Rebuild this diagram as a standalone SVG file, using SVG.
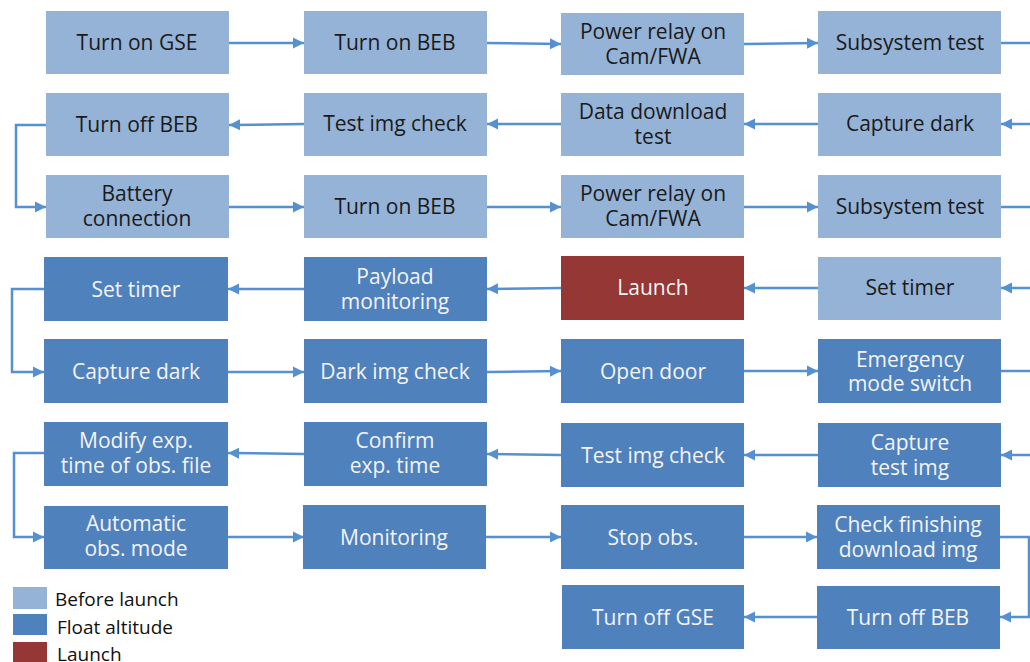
<svg xmlns="http://www.w3.org/2000/svg" width="1030" height="662" viewBox="0 0 1030 662">
<style>
.b{stroke:none}
.pre{fill:#95b3d7}
.flt{fill:#4f81bd}
.lch{fill:#953735}
text{font-family:"Open Sans","Noto Sans","DejaVu Sans",sans-serif;font-size:21px;text-anchor:middle}
.dk{fill:#1a1a1a}
.lt{fill:#f4f4f4}
.c{fill:none;stroke:#5590d0;stroke-width:2.5}
.lg{font-size:19px;text-anchor:start;fill:#111}
</style>
<defs>
<marker id="ah" markerUnits="userSpaceOnUse" markerWidth="12" markerHeight="12" refX="11" refY="6" orient="auto">
<path d="M0,0.5 L11,6 L0,11.5 z" fill="#5590d0"/>
</marker>
</defs>
<rect width="1030" height="662" fill="#ffffff"/>

<g id="connectors">
<line class="c" x1="228" y1="43" x2="304" y2="43" marker-end="url(#ah)"/>
<line class="c" x1="487" y1="43" x2="561" y2="44" marker-end="url(#ah)"/>
<line class="c" x1="744" y1="44" x2="818" y2="43" marker-end="url(#ah)"/>
<line class="c" x1="1001" y1="43" x2="1030" y2="43"/>

<line class="c" x1="1030" y1="124" x2="1001" y2="124" marker-end="url(#ah)"/>
<line class="c" x1="818" y1="124" x2="744" y2="124" marker-end="url(#ah)"/>
<line class="c" x1="561" y1="124" x2="487" y2="124" marker-end="url(#ah)"/>
<line class="c" x1="304" y1="124" x2="229" y2="125" marker-end="url(#ah)"/>
<polyline class="c" points="46,125 16,125 16,207 46,207" marker-end="url(#ah)"/>

<line class="c" x1="229" y1="207" x2="304" y2="207" marker-end="url(#ah)"/>
<line class="c" x1="487" y1="207" x2="561" y2="207" marker-end="url(#ah)"/>
<line class="c" x1="744" y1="207" x2="818" y2="207" marker-end="url(#ah)"/>
<line class="c" x1="1001" y1="207" x2="1030" y2="207"/>

<line class="c" x1="1030" y1="288" x2="1001" y2="288" marker-end="url(#ah)"/>
<line class="c" x1="818" y1="288" x2="744" y2="288" marker-end="url(#ah)"/>
<line class="c" x1="561" y1="288" x2="487" y2="289" marker-end="url(#ah)"/>
<line class="c" x1="304" y1="289" x2="228" y2="289" marker-end="url(#ah)"/>
<polyline class="c" points="44,289 12,289 12,372 44,372" marker-end="url(#ah)"/>

<line class="c" x1="228" y1="372" x2="304" y2="372" marker-end="url(#ah)"/>
<line class="c" x1="487" y1="372" x2="561" y2="371" marker-end="url(#ah)"/>
<line class="c" x1="744" y1="371" x2="818" y2="371" marker-end="url(#ah)"/>
<line class="c" x1="1001" y1="371" x2="1030" y2="371"/>

<line class="c" x1="1030" y1="455" x2="1001" y2="455" marker-end="url(#ah)"/>
<line class="c" x1="818" y1="455" x2="744" y2="455" marker-end="url(#ah)"/>
<line class="c" x1="561" y1="455" x2="487" y2="454" marker-end="url(#ah)"/>
<line class="c" x1="304" y1="454" x2="228" y2="453" marker-end="url(#ah)"/>
<polyline class="c" points="44,453 14,453 14,537 44,537" marker-end="url(#ah)"/>

<line class="c" x1="228" y1="537" x2="304" y2="537" marker-end="url(#ah)"/>
<line class="c" x1="486" y1="537" x2="561" y2="537" marker-end="url(#ah)"/>
<line class="c" x1="744" y1="537" x2="817" y2="537" marker-end="url(#ah)"/>
<polyline class="c" points="1000,537 1029,537 1029,617 1000,617" marker-end="url(#ah)"/>

<line class="c" x1="817" y1="617" x2="744" y2="617" marker-end="url(#ah)"/>
</g>

<g id="n1"><rect class="b pre" x="46" y="11" width="183" height="63"/><text class="dk" x="137" y="50">Turn on GSE</text></g>
<g id="n2"><rect class="b pre" x="304" y="11" width="183" height="63"/><text class="dk" x="395" y="50">Turn on BEB</text></g>
<g id="n3"><rect class="b pre" x="561" y="13" width="183" height="62"/><text class="dk" x="653" y="39">Power relay on<tspan x="653" dy="25">Cam/FWA</tspan></text></g>
<g id="n4"><rect class="b pre" x="818" y="11" width="183" height="63"/><text class="dk" x="910" y="50">Subsystem test</text></g>

<g id="n5"><rect class="b pre" x="818" y="93" width="183" height="63"/><text class="dk" x="910" y="131">Capture dark</text></g>
<g id="n6"><rect class="b pre" x="561" y="93" width="183" height="63"/><text class="dk" x="653" y="119">Data download<tspan x="653" dy="25">test</tspan></text></g>
<g id="n7"><rect class="b pre" x="304" y="93" width="183" height="63"/><text class="dk" x="395" y="131">Test img check</text></g>
<g id="n8"><rect class="b pre" x="46" y="93" width="183" height="63"/><text class="dk" x="137" y="132">Turn off BEB</text></g>

<g id="n9"><rect class="b pre" x="46" y="175" width="183" height="63"/><text class="dk" x="137" y="201">Battery<tspan x="137" dy="25">connection</tspan></text></g>
<g id="n10"><rect class="b pre" x="304" y="175" width="183" height="63"/><text class="dk" x="395" y="214">Turn on BEB</text></g>
<g id="n11"><rect class="b pre" x="561" y="175" width="183" height="63"/><text class="dk" x="653" y="201">Power relay on<tspan x="653" dy="25">Cam/FWA</tspan></text></g>
<g id="n12"><rect class="b pre" x="818" y="175" width="183" height="63"/><text class="dk" x="910" y="214">Subsystem test</text></g>

<g id="n13"><rect class="b pre" x="818" y="257" width="183" height="63"/><text class="dk" x="910" y="295">Set timer</text></g>
<g id="n14"><rect class="b lch" x="561" y="256" width="183" height="64"/><text class="lt" x="653" y="295">Launch</text></g>
<g id="n15"><rect class="b flt" x="304" y="257" width="183" height="64"/><text class="lt" x="395" y="284">Payload<tspan x="395" dy="25">monitoring</tspan></text></g>
<g id="n16"><rect class="b flt" x="44" y="257" width="184" height="64"/><text class="lt" x="136" y="297">Set timer</text></g>

<g id="n17"><rect class="b flt" x="44" y="339" width="184" height="64"/><text class="lt" x="136" y="379">Capture dark</text></g>
<g id="n18"><rect class="b flt" x="304" y="339" width="183" height="64"/><text class="lt" x="395" y="379">Dark img check</text></g>
<g id="n19"><rect class="b flt" x="561" y="339" width="183" height="64"/><text class="lt" x="653" y="379">Open door</text></g>
<g id="n20"><rect class="b flt" x="818" y="339" width="183" height="64"/><text class="lt" x="910" y="367">Emergency<tspan x="910" dy="24">mode switch</tspan></text></g>

<g id="n21"><rect class="b flt" x="818" y="423" width="183" height="64"/><text class="lt" x="910" y="450">Capture<tspan x="910" dy="25">test img</tspan></text></g>
<g id="n22"><rect class="b flt" x="561" y="423" width="183" height="64"/><text class="lt" x="653" y="463">Test img check</text></g>
<g id="n23"><rect class="b flt" x="304" y="422" width="183" height="64"/><text class="lt" x="395" y="448">Confirm<tspan x="395" dy="25">exp. time</tspan></text></g>
<g id="n24"><rect class="b flt" x="44" y="422" width="184" height="64"/><text class="lt" x="136" y="448">Modify exp.<tspan x="136" dy="25">time of obs. file</tspan></text></g>

<g id="n25"><rect class="b flt" x="44" y="506" width="184" height="63"/><text class="lt" x="136" y="531">Automatic<tspan x="136" dy="25">obs. mode</tspan></text></g>
<g id="n26"><rect class="b flt" x="303" y="505" width="183" height="64"/><text class="lt" x="394" y="545">Monitoring</text></g>
<g id="n27"><rect class="b flt" x="561" y="505" width="183" height="64"/><text class="lt" x="653" y="545">Stop obs.</text></g>
<g id="n28"><rect class="b flt" x="817" y="505" width="183" height="64"/><text class="lt" x="908" y="532">Check finishing<tspan x="908" dy="25">download img</tspan></text></g>

<g id="n29"><rect class="b flt" x="817" y="586" width="183" height="63"/><text class="lt" x="908" y="625">Turn off BEB</text></g>
<g id="n30"><rect class="b flt" x="562" y="585" width="182" height="64"/><text class="lt" x="653" y="625">Turn off GSE</text></g>

<g id="legend">
<rect class="pre" x="13" y="587" width="34" height="22"/>
<rect class="flt" x="13" y="614" width="34" height="21"/>
<rect class="lch" x="13" y="642" width="34" height="22"/>
<text class="lg" x="55" y="606">Before launch</text>
<text class="lg" x="57" y="634">Float altitude</text>
<text class="lg" x="57" y="661">Launch</text>
</g>
</svg>
